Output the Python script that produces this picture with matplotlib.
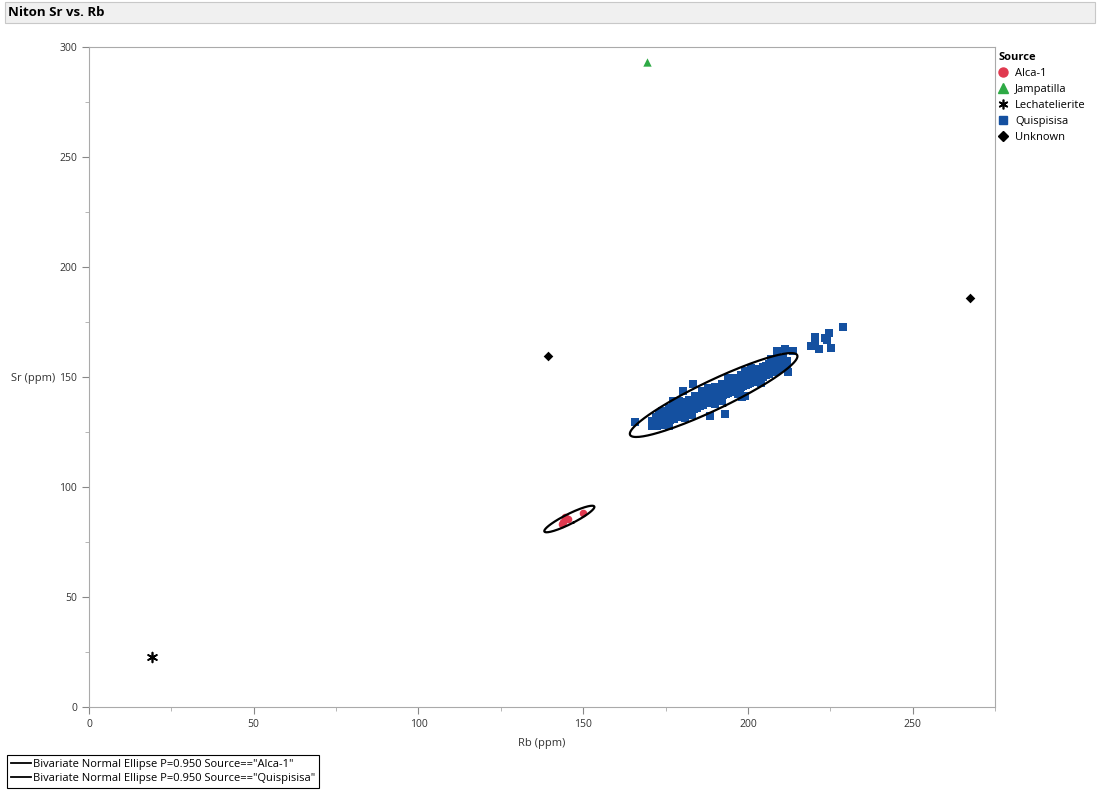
import matplotlib
matplotlib.use("Agg")
import matplotlib.pyplot as plt
import numpy as np
from matplotlib.lines import Line2D
from matplotlib.patches import Rectangle

plt.rcParams['font.family'] = ['Open Sans', 'DejaVu Sans']

# --- data ---
alca_rb = [143.9, 144.5, 145.5, 143.6, 150.0]
alca_sr = [84.1, 86.4, 85.5, 83.2, 88.2]

jamp_rb = [169.4]
jamp_sr = [293.2]

lech_rb = [19.1]
lech_sr = [22.7]

unk_rb = [139.4, 267.5]
unk_sr = [159.5, 185.9]

quis_rb = [171, 171, 171.5, 172, 172, 172, 173, 173, 173,
           174, 174, 174, 174, 175, 175, 175, 176, 176, 176, 176,
           177, 177, 177, 178, 178, 178, 178, 179, 179, 179,
           180, 180, 180, 180, 181, 181, 181, 182, 182, 182, 182,
           183, 183, 183, 184, 184, 184, 184, 185, 185, 185,
           186, 186, 186, 186, 187, 187, 187, 188, 188, 188, 188,
           189, 189, 189, 190, 190, 190, 190, 191, 191, 191,
           192, 192, 192, 192, 193, 193, 193, 194, 194, 194, 194,
           195, 195, 195, 196, 196, 196, 196, 197, 197, 197,
           198, 198, 198, 198, 199, 199, 199, 200, 200, 200, 200,
           201, 201, 201, 202, 202, 202, 203, 203, 203,
           204, 204, 204, 205, 205, 205, 206, 206, 206,
           207, 207, 207, 208, 208, 208, 209, 209, 210, 210, 210,
           211, 211, 212, 212,
           165.8, 177.3, 180.4, 183.4, 188.6, 193.1, 198.3, 199.2,
           208.9, 211.4, 213.8, 212.0, 212.3,
           219.2, 220.5, 220.5, 221.7, 223.5, 224.1, 224.7, 225.3, 229.0]
quis_sr = [127.6, 130.0, 128.9, 128.2, 130.6, 132.0, 128.9, 131.3, 133.1,
           129.3, 131.0, 132.9, 134.6, 130.2, 132.4, 134.0, 130.6, 132.0, 134.5, 136.1,
           131.5, 133.2, 135.0, 131.9, 133.9, 135.6, 137.0, 132.8, 134.2, 136.4,
           133.0, 135.3, 137.2, 138.5, 133.9, 135.6, 137.9, 134.4, 136.9, 138.6, 139.7,
           135.4, 137.0, 139.2, 135.7, 137.9, 140.0, 141.4, 136.8, 138.4, 140.5,
           137.1, 139.5, 141.3, 142.6, 138.2, 139.8, 142.0, 138.5, 140.9, 142.7, 144.0,
           139.6, 141.2, 143.3, 139.9, 142.2, 144.1, 145.3, 141.0, 142.6, 144.7,
           141.3, 143.7, 145.5, 146.8, 142.4, 144.0, 146.1, 142.7, 145.1, 146.9, 148.2,
           143.8, 145.3, 147.5, 144.1, 146.5, 148.3, 149.6, 145.2, 146.8, 148.9,
           145.5, 147.9, 149.7, 151.0, 146.6, 148.2, 150.3, 146.9, 149.3, 151.1, 152.3,
           148.0, 149.6, 151.7, 148.3, 150.7, 152.5, 149.4, 151.0, 153.1,
           149.8, 152.1, 153.8, 150.9, 152.4, 154.4, 151.2, 153.5, 155.1,
           152.3, 153.8, 155.7, 152.7, 154.9, 156.4, 153.8, 155.3, 154.2, 156.3, 157.6,
           155.3, 156.7, 155.8, 157.2,
           129.5, 139.1, 143.6, 146.8, 132.3, 133.2, 140.9, 141.5,
           161.8, 162.7, 161.8, 154.0, 152.3,
           164.1, 168.2, 164.5, 162.7, 167.7, 166.8, 170.0, 163.2, 172.7]

# further Quispisisa samples filling the dense band
quis2_rb = [172.5, 172.5, 173.5, 173.5, 174.5, 174.5, 175.5, 175.5, 176.5, 176.5,
            177.5, 177.5, 178.5, 178.5, 179.5, 179.5, 180.5, 180.5, 181.5, 181.5,
            182.5, 182.5, 183.5, 183.5, 184.5, 184.5, 185.5, 185.5, 186.5, 186.5,
            187.5, 187.5, 188.5, 188.5, 189.5, 189.5, 190.5, 190.5, 191.5, 191.5,
            192.5, 192.5, 193.5, 193.5, 194.5, 194.5, 195.5, 195.5, 196.5, 196.5,
            197.5, 197.5, 198.5, 198.5, 199.5, 199.5, 200.5, 200.5, 201.5, 201.5,
            202.5, 202.5, 203.5, 203.5, 204.5, 204.5, 205.5, 205.5, 206.5, 206.5,
            207.5, 207.5, 208.5, 208.5, 209.5, 209.5, 210.5, 210.5,
            176, 179, 181, 183, 186, 188, 190, 192, 194, 197, 199, 201, 204, 207]
quis2_sr = [127.6, 132.0, 128.3, 132.7, 129.0, 133.4, 129.7, 134.1, 130.4, 134.8,
            131.1, 135.5, 131.8, 136.2, 132.5, 136.9, 133.2, 137.6, 133.9, 138.3,
            134.6, 139.0, 135.3, 139.7, 136.0, 140.4, 136.7, 141.1, 137.4, 141.8,
            138.1, 142.5, 138.8, 143.2, 139.5, 143.9, 140.2, 144.6, 140.9, 145.3,
            141.6, 146.0, 142.3, 146.7, 143.0, 147.4, 143.7, 148.1, 144.4, 148.8,
            145.1, 149.5, 145.8, 150.2, 146.5, 150.9, 147.2, 151.6, 147.9, 152.3,
            148.6, 153.0, 149.3, 153.7, 150.0, 154.4, 150.7, 155.1, 151.4, 155.8,
            152.1, 156.5, 152.8, 157.2, 153.5, 157.9, 154.2, 158.6,
            127.7, 138.9, 131.2, 132.6, 143.8, 145.2, 137.5, 138.9, 149.4, 142.4,
            152.9, 154.3, 147.3, 158.4]

# bivariate normal ellipse summaries (mean, covariance) per source
alca_mean = [145.8, 85.45]
alca_cov = [[9.65, 6.95], [6.95, 6.08]]
quis_mean = [189.6, 141.8]
quis_cov = [[108.0, 74.8], [74.8, 60.7]]

red = '#E0394F'
green = '#2EAA45'
blue = '#1450A0'


def ellipse_xy(mean, cov, chi2=5.991):
    vals, vecs = np.linalg.eigh(np.array(cov))
    t = np.linspace(0, 2 * np.pi, 200)
    circ = np.vstack([np.cos(t), np.sin(t)])
    pts = vecs @ (np.sqrt(chi2 * vals)[:, None] * circ)
    return pts[0] + mean[0], pts[1] + mean[1]


fig = plt.figure(figsize=(10.98, 7.92), dpi=100)
ax = fig.add_axes([89 / 1098, 1 - 707 / 792, 906 / 1098, 660 / 792])

ax.scatter(quis_rb + quis2_rb, quis_sr + quis2_sr, marker='s', s=32, color=blue,
           linewidths=0, zorder=3)
ax.scatter(alca_rb, alca_sr, marker='o', s=30, color=red, linewidths=0, zorder=3)
ax.scatter(jamp_rb, jamp_sr, marker='^', s=36, color=green, linewidths=0, zorder=3)
ax.scatter(lech_rb, lech_sr, marker=(6, 2, 0), s=50, color='black', linewidths=1.2, zorder=3)
ax.scatter(unk_rb, unk_sr, marker='D', s=24, color='black', linewidths=0, zorder=3)

ex, ey = ellipse_xy(alca_mean, alca_cov)
ax.plot(ex, ey, color='black', lw=1.6, zorder=4)
ex, ey = ellipse_xy(quis_mean, quis_cov)
ax.plot(ex, ey, color='black', lw=1.6, zorder=4)

ax.set_xlim(0, 275)
ax.set_ylim(0, 300)
ax.set_xticks(np.arange(0, 251, 50))
ax.set_yticks(np.arange(0, 301, 50))
ax.set_xticks(np.arange(25, 276, 50), minor=True)
ax.set_yticks(np.arange(25, 300, 50), minor=True)
ax.tick_params(which='major', length=5, color='#888888', labelsize=7.5, labelcolor='#333333')
ax.tick_params(which='minor', length=3, color='#aaaaaa')
for sp in ax.spines.values():
    sp.set_color('#aaaaaa')
    sp.set_linewidth(0.8)

ax.set_xlabel('Rb (ppm)', fontsize=8, color='#333333', labelpad=6)
fig.text(55 / 1098, 1 - 378 / 792, 'Sr (ppm)', fontsize=8, color='#333333',
         va='center', ha='right')

# title bar
fig.patches.append(Rectangle((5 / 1098, 1 - 23 / 792), 1090 / 1098, 21 / 792,
                             transform=fig.transFigure, facecolor='#f0f0f0',
                             edgecolor='#c8c8c8', lw=0.8))
fig.text(8 / 1098, 1 - 13 / 792, 'Niton Sr vs. Rb', fontsize=9.5, fontweight='bold', va='center')

# source legend
handles = [
    Line2D([], [], marker='o', ls='', color=red, markersize=6.5, label='Alca-1'),
    Line2D([], [], marker='^', ls='', color=green, markersize=6.5, label='Jampatilla'),
    Line2D([], [], marker=(6, 2, 0), ls='', color='black', markersize=7, mew=1.2, label='Lechatelierite'),
    Line2D([], [], marker='s', ls='', color=blue, markersize=6, label='Quispisisa'),
    Line2D([], [], marker='D', ls='', color='black', markersize=5.5, label='Unknown'),
]
leg = fig.legend(handles=handles, title='Source', loc='upper left',
                 bbox_to_anchor=(996 / 1098, 1 - 50 / 792), frameon=False,
                 fontsize=8, title_fontsize=8, handlelength=0.8, handletextpad=0.7,
                 labelspacing=0.45, borderaxespad=0, borderpad=0.2)
leg.get_title().set_fontweight('bold')
leg._legend_box.align = 'left'

# ellipse legend
ell_handles = [
    Line2D([], [], color='black', lw=1.3, label='Bivariate Normal Ellipse P=0.950 Source=="Alca-1"'),
    Line2D([], [], color='black', lw=1.3, label='Bivariate Normal Ellipse P=0.950 Source=="Quispisisa"'),
]
leg2 = fig.legend(handles=ell_handles, loc='lower left',
                  bbox_to_anchor=(7 / 1098, 1 - 788 / 792), fontsize=8,
                  handlelength=1.8, handletextpad=0.15, labelspacing=0.3,
                  borderaxespad=0, borderpad=0.35, fancybox=False, framealpha=1)
leg2.get_frame().set_edgecolor('black')
leg2.get_frame().set_linewidth(0.8)

fig.savefig('out.png', dpi=100)
plt.close()
